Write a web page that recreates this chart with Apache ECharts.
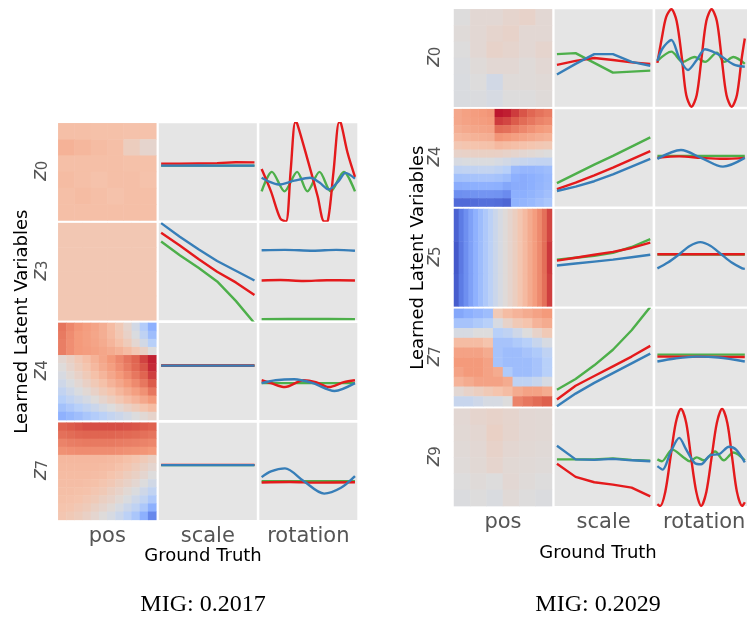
<!DOCTYPE html>
<html><head><meta charset="utf-8">
<script src="https://cdn.jsdelivr.net/npm/echarts@6/dist/echarts.min.js"></script>
<style>html,body{margin:0;padding:0;background:#fff}#c{width:747px;height:620px}</style>
</head><body><div id="c"></div><script>
// ---------------- labels ----------------
const colLabels = ['pos', 'scale', 'rotation'];
const leftRowSubs = ['0', '3', '4', '7'];
const rightRowSubs = ['0', '4', '5', '7', '9'];
const yTitle = 'Learned Latent Variables';
const xTitle = 'Ground Truth';
const leftMIG = 'MIG: 0.2017';
const rightMIG = 'MIG: 0.2029';
const scaleX = [0, 0.2, 0.4, 0.6, 0.8, 1.0];

// ---------------- heatmaps (rows top->bottom, values -1..1) ----------------
const L_z0_pos = [
  [0.28,0.28,0.27,0.27,0.26,0.26],
  [0.36,0.33,0.3,0.28,0.16,0.08],
  [0.28,0.28,0.28,0.28,0.27,0.27],
  [0.3,0.28,0.26,0.28,0.28,0.26],
  [0.28,0.3,0.28,0.26,0.28,0.28],
  [0.28,0.28,0.28,0.28,0.28,0.28]];
const L_z3_pos = [
  [0.22,0.22,0.22,0.22],
  [0.22,0.22,0.22,0.22],
  [0.22,0.22,0.22,0.22],
  [0.22,0.22,0.22,0.22]];
const L_z4_pos = [
  [0.66,0.58,0.52,0.48,0.44,0.38,0.3,0.2,0.08,-0.08,-0.28,-0.5],
  [0.64,0.56,0.5,0.47,0.43,0.38,0.31,0.22,0.11,-0.03,-0.2,-0.4],
  [0.62,0.55,0.5,0.47,0.44,0.4,0.34,0.27,0.18,0.06,-0.08,-0.25],
  [0.62,0.55,0.5,0.48,0.46,0.43,0.4,0.36,0.3,0.22,0.12,0.0],
  [0.06,0.13,0.21,0.28,0.36,0.43,0.51,0.58,0.66,0.73,0.83,0.92],
  [0.01,0.09,0.17,0.24,0.32,0.4,0.47,0.55,0.63,0.71,0.78,0.9],
  [-0.04,0.04,0.11,0.19,0.27,0.34,0.42,0.5,0.57,0.65,0.73,0.84],
  [-0.1,-0.03,0.05,0.12,0.2,0.27,0.35,0.42,0.5,0.57,0.65,0.76],
  [-0.18,-0.1,-0.03,0.04,0.11,0.19,0.25,0.33,0.4,0.47,0.54,0.65],
  [-0.26,-0.19,-0.12,-0.06,0.01,0.08,0.15,0.22,0.29,0.35,0.42,0.5],
  [-0.37,-0.31,-0.25,-0.19,-0.13,-0.06,-0.01,0.06,0.12,0.18,0.24,0.3],
  [-0.49,-0.44,-0.39,-0.33,-0.28,-0.23,-0.17,-0.12,-0.07,-0.01,0.04,0.09]];
const L_z7_pos = [
  [0.74,0.76,0.78,0.8,0.8,0.8,0.8,0.8,0.79,0.78,0.76,0.74],
  [0.68,0.7,0.72,0.73,0.73,0.73,0.73,0.72,0.71,0.7,0.68,0.66],
  [0.6,0.62,0.63,0.64,0.64,0.64,0.64,0.63,0.62,0.61,0.6,0.58],
  [0.54,0.55,0.56,0.56,0.56,0.56,0.56,0.55,0.54,0.53,0.52,0.5],
  [0.32,0.32,0.32,0.32,0.32,0.32,0.31,0.3,0.27,0.24,0.19,0.14],
  [0.31,0.31,0.31,0.31,0.31,0.3,0.29,0.26,0.23,0.18,0.13,0.07],
  [0.3,0.3,0.3,0.3,0.29,0.28,0.25,0.22,0.17,0.13,0.07,0.0],
  [0.29,0.29,0.29,0.28,0.27,0.24,0.21,0.16,0.11,0.06,-0.01,-0.09],
  [0.28,0.28,0.27,0.26,0.23,0.2,0.15,0.1,0.04,-0.02,-0.1,-0.19],
  [0.27,0.26,0.25,0.22,0.19,0.14,0.1,0.04,-0.03,-0.11,-0.19,-0.31],
  [0.25,0.24,0.21,0.18,0.13,0.08,0.03,-0.04,-0.12,-0.2,-0.32,-0.5],
  [0.23,0.2,0.17,0.12,0.07,0.01,-0.05,-0.13,-0.22,-0.33,-0.5,-0.72]];
const R_z0_pos = [
  [0.0,0.05,0.05,0.08,0.1,0.05],
  [0.02,0.05,0.08,0.1,0.05,0.05],
  [0.0,0.05,0.1,0.08,0.05,0.08],
  [-0.02,0.02,0.05,0.05,0.02,0.05],
  [-0.03,0.0,-0.08,0.02,0.02,0.03],
  [-0.03,-0.02,-0.05,0.0,0.0,0.02]];
const R_z4_pos = [
  [0.42,0.46,0.48,0.5,0.52,0.95,0.93,0.85,0.78,0.72,0.67,0.63],
  [0.42,0.45,0.47,0.48,0.5,0.85,0.82,0.76,0.7,0.65,0.6,0.57],
  [0.38,0.41,0.43,0.44,0.45,0.7,0.68,0.63,0.58,0.54,0.5,0.47],
  [0.32,0.34,0.36,0.37,0.38,0.52,0.5,0.47,0.44,0.41,0.38,0.36],
  [0.22,0.24,0.25,0.26,0.27,0.32,0.3,0.28,0.26,0.24,0.22,0.2],
  [0.1,0.11,0.12,0.13,0.13,0.12,0.1,0.08,0.06,0.04,0.02,0.0],
  [-0.04,-0.03,-0.02,-0.02,-0.02,-0.05,-0.08,-0.12,-0.15,-0.17,-0.18,-0.18],
  [-0.2,-0.19,-0.18,-0.17,-0.17,-0.2,-0.25,-0.42,-0.45,-0.45,-0.43,-0.4],
  [-0.37,-0.36,-0.35,-0.34,-0.34,-0.36,-0.4,-0.5,-0.52,-0.5,-0.47,-0.43],
  [-0.52,-0.51,-0.5,-0.49,-0.49,-0.5,-0.55,-0.52,-0.52,-0.5,-0.46,-0.42],
  [-0.68,-0.67,-0.66,-0.65,-0.65,-0.66,-0.7,-0.5,-0.5,-0.47,-0.43,-0.38],
  [-0.86,-0.86,-0.85,-0.84,-0.84,-0.85,-0.88,-0.48,-0.46,-0.43,-0.38,-0.33]];
const R_z5_pos = [
  [-0.9,-0.78,-0.68,-0.58,-0.49,-0.4,-0.31,-0.22,-0.13,-0.05,0.02,0.08,0.15,0.23,0.31,0.4,0.48,0.57,0.68,0.82],
  [-0.94,-0.79,-0.68,-0.58,-0.49,-0.4,-0.31,-0.22,-0.13,-0.05,0.02,0.08,0.15,0.23,0.31,0.4,0.48,0.57,0.69,0.86],
  [-0.92,-0.78,-0.68,-0.58,-0.49,-0.4,-0.31,-0.22,-0.13,-0.05,0.02,0.08,0.15,0.23,0.31,0.4,0.48,0.57,0.68,0.84]];
const R_z7_pos = [
  [-0.55,-0.5,-0.45,-0.4,0.2,0.3,0.35,0.4,0.45,0.5],
  [-0.35,-0.35,-0.3,-0.25,-0.05,0.1,0.2,0.25,0.35,0.4],
  [-0.05,-0.05,0.0,0.0,-0.25,-0.2,-0.1,0.0,0.1,0.2],
  [0.3,0.3,0.3,0.25,-0.35,-0.35,-0.3,-0.25,-0.15,-0.05],
  [0.45,0.45,0.45,0.4,-0.35,-0.4,-0.4,-0.35,-0.3,-0.2],
  [0.5,0.5,0.5,0.45,-0.35,-0.4,-0.4,-0.4,-0.35,-0.25],
  [0.45,0.5,0.5,0.45,0.4,-0.3,-0.4,-0.4,-0.35,-0.25],
  [0.35,0.4,0.45,0.45,0.45,0.4,-0.2,-0.2,-0.15,-0.05],
  [0.05,0.1,0.15,0.2,0.25,0.3,0.4,0.45,0.45,0.4],
  [-0.15,-0.15,-0.1,-0.05,-0.05,0.0,0.6,0.65,0.7,0.75]];
const R_z9_pos = [
  [0.05,0.08,0.1,0.08,0.05,0.04],
  [0.04,0.06,0.12,0.08,0.05,0.04],
  [0.03,0.05,0.1,0.06,0.04,0.03],
  [0.02,0.04,0.08,0.04,0.03,0.02],
  [0.0,0.02,0.0,0.05,0.02,0.0],
  [-0.02,0.0,-0.03,0.03,0.0,-0.02]];

// ---------------- scale lines (values at scaleX, 0=cell bottom, 1=cell top) ----------------
const L_z0_scale_r = [0.585,0.585,0.588,0.59,0.6,0.598];
const L_z0_scale_g = [0.565,0.565,0.565,0.565,0.565,0.565];
const L_z0_scale_b = [0.565,0.565,0.566,0.565,0.565,0.565];
const L_z3_scale_r = [0.90,0.77,0.63,0.50,0.39,0.26];
const L_z3_scale_g = [0.81,0.67,0.54,0.40,0.20,-0.03];
const L_z3_scale_b = [1.0,0.86,0.73,0.61,0.51,0.41];
const L_z4_scale_r = [0.562,0.562,0.562,0.562,0.562,0.562];
const L_z4_scale_g = [0.56,0.56,0.56,0.56,0.56,0.56];
const L_z4_scale_b = [0.56,0.56,0.56,0.56,0.56,0.56];
const L_z7_scale_r = [0.566,0.566,0.566,0.566,0.566,0.566];
const L_z7_scale_g = [0.564,0.564,0.564,0.564,0.564,0.564];
const L_z7_scale_b = [0.564,0.564,0.564,0.564,0.564,0.564];
const R_z0_scale_r = [0.43,0.47,0.50,0.48,0.455,0.44];
const R_z0_scale_g = [0.54,0.55,0.45,0.35,0.36,0.37];
const R_z0_scale_b = [0.33,0.44,0.54,0.54,0.46,0.42];
const R_z4_scale_r = [0.18,0.245,0.32,0.40,0.485,0.57];
const R_z4_scale_g = [0.24,0.335,0.43,0.52,0.615,0.71];
const R_z4_scale_b = [0.16,0.205,0.26,0.33,0.41,0.49];
const R_z5_scale_r = [0.47,0.50,0.53,0.56,0.60,0.655];
const R_z5_scale_g = [0.48,0.50,0.52,0.55,0.61,0.69];
const R_z5_scale_b = [0.42,0.44,0.46,0.48,0.505,0.53];
const R_z7_scale_r = [0.07,0.21,0.31,0.41,0.51,0.62];
const R_z7_scale_g = [0.17,0.28,0.42,0.58,0.78,1.02];
const R_z7_scale_b = [0.0,0.13,0.24,0.34,0.44,0.54];
const R_z9_scale_r = [0.435,0.30,0.245,0.22,0.19,0.10];
const R_z9_scale_g = [0.48,0.48,0.48,0.49,0.475,0.465];
const R_z9_scale_b = [0.62,0.48,0.475,0.485,0.47,0.46];

// ---------------- rotation lines ([x, value]) ----------------
const L_z0_rot_r = [[0,0.53],[0.1,0.3],[0.2,0.02],[0.26,-0.01],[0.31,0.5],[0.36,1.01],[0.38,1.0],[0.5,0.6],[0.6,0.25],[0.67,-0.01],[0.71,0.0],[0.77,0.5],[0.83,1.01],[0.85,1.0],[0.92,0.7],[1.0,0.45]];
const L_z0_rot_g = [[0,0.3],[0.11,0.5],[0.245,0.3],[0.38,0.5],[0.49,0.3],[0.62,0.5],[0.74,0.3],[0.88,0.5],[1.0,0.3]];
const L_z0_rot_b = [[0,0.44],[0.08,0.40],[0.18,0.37],[0.35,0.41],[0.52,0.44],[0.62,0.39],[0.72,0.32],[0.82,0.4],[0.9,0.49],[1.0,0.43]];
const L_z3_rot_r = [[0,0.41],[0.2,0.415],[0.45,0.405],[0.7,0.412],[1,0.41]];
const L_z3_rot_g = [[0,0.012],[0.5,0.014],[1,0.012]];
const L_z3_rot_b = [[0,0.72],[0.25,0.725],[0.55,0.715],[0.8,0.725],[1,0.715]];
const L_z4_rot_r = [[0,0.41],[0.1,0.38],[0.25,0.34],[0.45,0.41],[0.58,0.39],[0.72,0.34],[0.88,0.39],[1,0.41]];
const L_z4_rot_g = [[0,0.38],[0.5,0.38],[1,0.38]];
const L_z4_rot_b = [[0,0.38],[0.15,0.41],[0.35,0.42],[0.55,0.38],[0.78,0.30],[1,0.38]];
const L_z7_rot_r = [[0,0.385],[0.3,0.39],[0.6,0.383],[1,0.387]];
const L_z7_rot_g = [[0,0.397],[0.5,0.397],[1,0.397]];
const L_z7_rot_b = [[0,0.44],[0.1,0.5],[0.25,0.53],[0.45,0.4],[0.67,0.27],[0.85,0.33],[1,0.45]];
const R_z0_rot_r = [[0,0.45],[0.05,0.7],[0.1,0.92],[0.16,1.0],[0.22,0.88],[0.28,0.5],[0.33,0.12],[0.39,0.0],[0.45,0.12],[0.505,0.5],[0.56,0.88],[0.62,1.0],[0.68,0.88],[0.735,0.5],[0.79,0.12],[0.85,0.0],[0.91,0.12],[0.965,0.5],[1.0,0.7]];
const R_z0_rot_g = [[0,0.47],[0.16,0.565],[0.29,0.46],[0.425,0.51],[0.545,0.46],[0.68,0.555],[0.765,0.46],[0.87,0.51],[1.0,0.44]];
const R_z0_rot_b = [[0,0.47],[0.06,0.6],[0.16,0.685],[0.25,0.5],[0.35,0.377],[0.45,0.48],[0.545,0.59],[0.62,0.57],[0.71,0.53],[0.87,0.435],[1.0,0.41]];
const R_z4_rot_r = [[0,0.5],[0.25,0.515],[0.5,0.5],[0.75,0.49],[1,0.5]];
const R_z4_rot_g = [[0,0.52],[0.5,0.52],[1,0.52]];
const R_z4_rot_b = [[0,0.49],[0.27,0.58],[0.5,0.5],[0.75,0.41],[1.0,0.5]];
const R_z5_rot_r = [[0,0.535],[0.5,0.535],[1,0.535]];
const R_z5_rot_g = [[0,0.533],[0.5,0.533],[1,0.533]];
const R_z5_rot_b = [[0,0.39],[0.12,0.45],[0.25,0.535],[0.37,0.62],[0.49,0.66],[0.61,0.62],[0.73,0.535],[0.85,0.45],[0.97,0.39],[1,0.385]];
const R_z7_rot_r = [[0,0.51],[0.5,0.51],[1,0.505]];
const R_z7_rot_g = [[0,0.53],[0.5,0.53],[1,0.53]];
const R_z7_rot_b = [[0,0.46],[0.2,0.49],[0.45,0.51],[0.7,0.5],[1,0.46]];
const R_z9_rot_r = [[0,0.02],[0.03,0.0],[0.09,0.146],[0.15,0.5],[0.21,0.854],[0.27,1.0],[0.33,0.854],[0.385,0.5],[0.445,0.146],[0.5,0.0],[0.56,0.146],[0.62,0.5],[0.68,0.854],[0.74,1.0],[0.8,0.854],[0.855,0.5],[0.91,0.146],[0.97,0.0],[1.0,0.04]];
const R_z9_rot_g = [[0,0.48],[0.05,0.46],[0.17,0.58],[0.3,0.5],[0.37,0.46],[0.45,0.5],[0.53,0.47],[0.66,0.56],[0.76,0.47],[0.87,0.55],[1.0,0.47]];
const R_z9_rot_b = [[0,0.41],[0.06,0.375],[0.15,0.55],[0.25,0.70],[0.33,0.58],[0.43,0.44],[0.5,0.43],[0.6,0.52],[0.71,0.535],[0.82,0.61],[0.9,0.58],[1.0,0.45]];

// ---------------- layout ----------------
const panels = [
  { left: 58.3, top: 123.3, colStep: 100.5, rowStep: 99.8, cw: 98, ch: 97.2,
    labelX: 40.5, titleX: 22, colLabelY: 537, xTitleY: 556, migY: 605, centerX: 203,
    rows: [
      {sub: leftRowSubs[0], pos: L_z0_pos, scale: {r: L_z0_scale_r, g: L_z0_scale_g, b: L_z0_scale_b}, rot: {r: L_z0_rot_r, g: L_z0_rot_g, b: L_z0_rot_b}},
      {sub: leftRowSubs[1], pos: L_z3_pos, scale: {r: L_z3_scale_r, g: L_z3_scale_g, b: L_z3_scale_b}, rot: {r: L_z3_rot_r, g: L_z3_rot_g, b: L_z3_rot_b}},
      {sub: leftRowSubs[2], pos: L_z4_pos, scale: {r: L_z4_scale_r, g: L_z4_scale_g, b: L_z4_scale_b}, rot: {r: L_z4_rot_r, g: L_z4_rot_g, b: L_z4_rot_b}},
      {sub: leftRowSubs[3], pos: L_z7_pos, scale: {r: L_z7_scale_r, g: L_z7_scale_g, b: L_z7_scale_b}, rot: {r: L_z7_rot_r, g: L_z7_rot_g, b: L_z7_rot_b}}
    ], mig: leftMIG },
  { left: 454, top: 9.3, colStep: 100.6, rowStep: 99.85, cw: 98, ch: 97.4,
    labelX: 434, titleX: 418, colLabelY: 522.5, xTitleY: 553, migY: 605, centerX: 598,
    rows: [
      {sub: rightRowSubs[0], pos: R_z0_pos, scale: {r: R_z0_scale_r, g: R_z0_scale_g, b: R_z0_scale_b}, rot: {r: R_z0_rot_r, g: R_z0_rot_g, b: R_z0_rot_b}},
      {sub: rightRowSubs[1], pos: R_z4_pos, scale: {r: R_z4_scale_r, g: R_z4_scale_g, b: R_z4_scale_b}, rot: {r: R_z4_rot_r, g: R_z4_rot_g, b: R_z4_rot_b}},
      {sub: rightRowSubs[2], pos: R_z5_pos, scale: {r: R_z5_scale_r, g: R_z5_scale_g, b: R_z5_scale_b}, rot: {r: R_z5_rot_r, g: R_z5_rot_g, b: R_z5_rot_b}},
      {sub: rightRowSubs[3], pos: R_z7_pos, scale: {r: R_z7_scale_r, g: R_z7_scale_g, b: R_z7_scale_b}, rot: {r: R_z7_rot_r, g: R_z7_rot_g, b: R_z7_rot_b}},
      {sub: rightRowSubs[4], pos: R_z9_pos, scale: {r: R_z9_scale_r, g: R_z9_scale_g, b: R_z9_scale_b}, rot: {r: R_z9_rot_r, g: R_z9_rot_g, b: R_z9_rot_b}}
    ], mig: rightMIG }
];

const coolwarm = ['#3b4cc0','#6282ea','#8db0fe','#b8d0f9','#dddcdc','#f5c4ad','#f49a7b','#de604d','#b40426'];
const lineColors = {g: '#4daf4a', r: '#e41a1c', b: '#377eb8'};

const grids = [], xAxes = [], yAxes = [], series = [], heatIdx = [], graphics = [];

function addHeat(left, top, w, h, mat) {
  const gi = grids.length;
  grids.push({left, top, width: w, height: h, show: false, containLabel: false});
  const nr = mat.length, nc = mat[0].length;
  xAxes.push({type: 'category', gridIndex: gi, data: [...Array(nc).keys()], show: false});
  yAxes.push({type: 'category', gridIndex: gi, data: [...Array(nr).keys()], inverse: true, show: false});
  const d = [];
  mat.forEach((row, r) => row.forEach((v, c) => d.push([c, r, v])));
  heatIdx.push(series.length);
  series.push({type: 'heatmap', xAxisIndex: gi, yAxisIndex: gi, data: d, silent: true, itemStyle: {borderWidth: 0}});
}
function addLines(left, top, w, h, lines, xs, smooth) {
  const gi = grids.length;
  grids.push({left, top, width: w, height: h, show: true, backgroundColor: '#e5e5e5', borderWidth: 0, containLabel: false});
  xAxes.push({type: 'value', gridIndex: gi, min: -0.025, max: 1.025, show: false});
  yAxes.push({type: 'value', gridIndex: gi, min: 0, max: 1, show: false});
  ['g', 'r', 'b'].forEach(k => {
    const d = xs ? lines[k].map((v, i) => [xs[i], v]) : lines[k];
    series.push({type: 'line', xAxisIndex: gi, yAxisIndex: gi, data: d, showSymbol: false, symbol: 'none',
      smooth: smooth, clip: true, silent: true, lineStyle: {color: lineColors[k], width: 2.4}, itemStyle: {color: lineColors[k]}});
  });
}
function txt(x, y, text, font, fill, rot) {
  graphics.push({type: 'text', x, y, rotation: rot || 0, silent: true,
    style: {text, font, fill, textAlign: 'center', textVerticalAlign: 'middle', align: 'center', verticalAlign: 'middle'}});
}

panels.forEach(p => {
  p.rows.forEach((row, r) => {
    const top = p.top + r * p.rowStep;
    addHeat(p.left, top, p.cw, p.ch, row.pos);
    addLines(p.left + p.colStep, top, p.cw, p.ch, row.scale, scaleX, false);
    addLines(p.left + 2 * p.colStep, top, p.cw, p.ch, row.rot, null, 0.3);
    const cy = top + p.ch / 2;
    txt(p.labelX, cy + 3.5, 'z', 'italic 21px "DejaVu Sans"', '#555555', Math.PI / 2);
    txt(p.labelX + 2.5, cy - 6.5, row.sub, '15px "DejaVu Sans"', '#555555', Math.PI / 2);
  });
  const n = p.rows.length;
  const midY = p.top + ((n - 1) * p.rowStep + p.ch) / 2;
  txt(p.titleX, midY, yTitle, '18px "DejaVu Sans"', '#000000', Math.PI / 2);
  colLabels.forEach((c, i) => txt(p.left + i * p.colStep + p.cw / 2, p.colLabelY, c, '21px "DejaVu Sans"', '#555555'));
  txt(p.centerX, p.xTitleY, xTitle, '18px "DejaVu Sans"', '#000000');
  txt(p.centerX, p.migY, p.mig, '24px "Liberation Serif", "Times New Roman", serif', '#000000');
});

const chart = echarts.init(document.getElementById('c'), null, {renderer: 'canvas'});
chart.setOption({
  animation: false,
  backgroundColor: '#ffffff',
  grid: grids, xAxis: xAxes, yAxis: yAxes,
  visualMap: {type: 'continuous', min: -1, max: 1, show: false, calculable: false, seriesIndex: heatIdx, inRange: {color: coolwarm}},
  series: series,
  graphic: graphics
});
</script></body></html>
